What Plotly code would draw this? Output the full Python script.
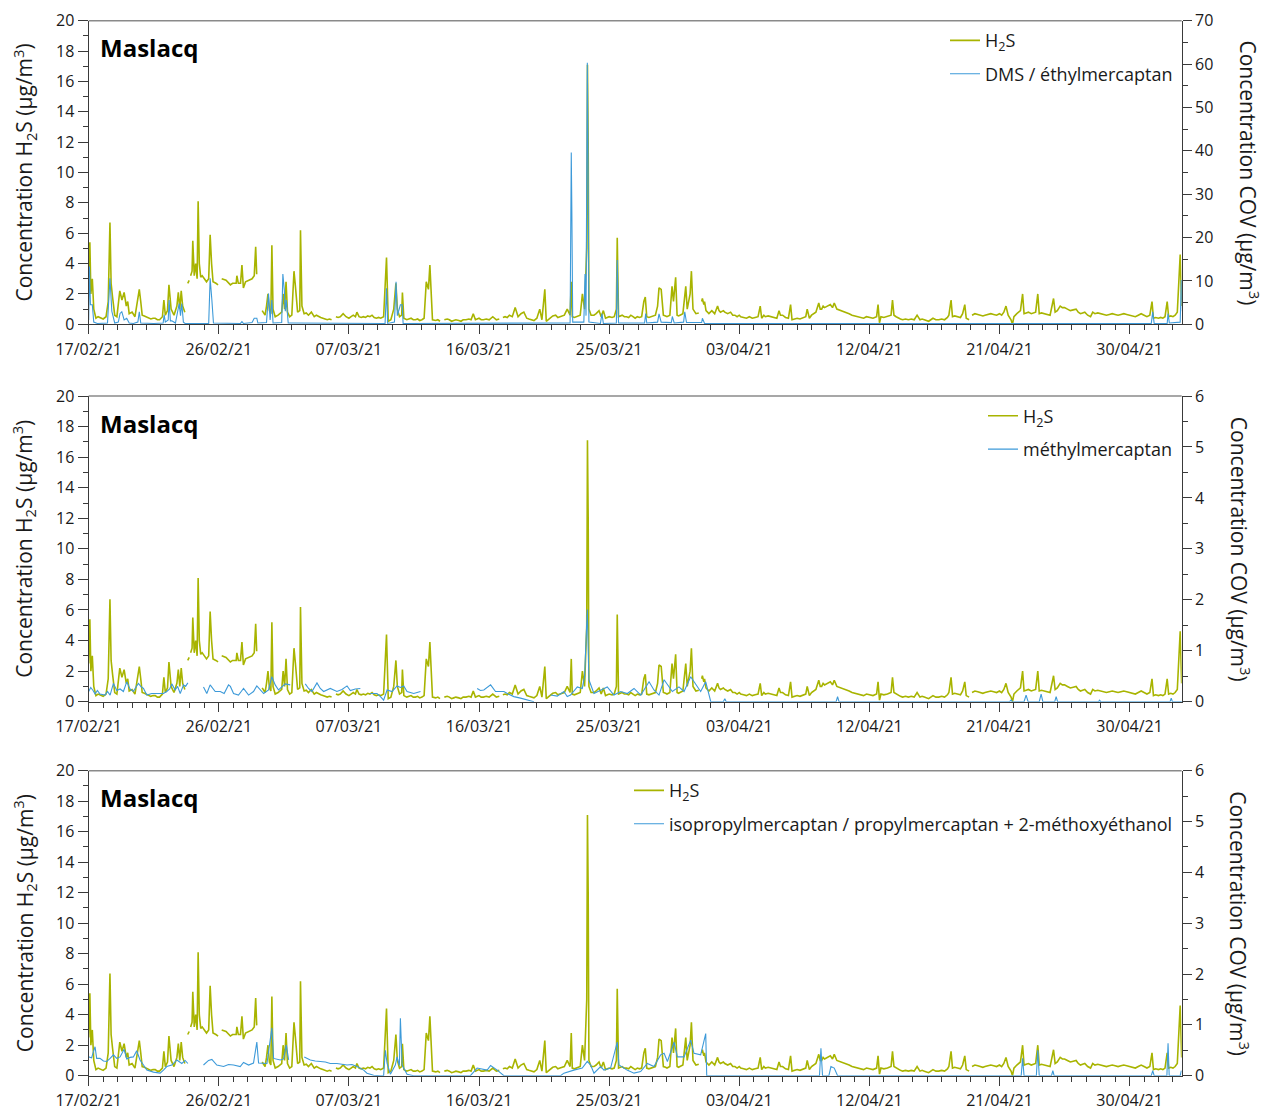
import pandas as pd
import plotly.graph_objects as go

# ---------------- data (day offset from 17/02/2021 00:00, value) ----------------
START = pd.Timestamp("2021-02-17 00:00")
END = pd.Timestamp("2021-05-03 14:30")

TICK_LABELS = ["17/02/21", "26/02/21", "07/03/21", "16/03/21", "25/03/21",
               "03/04/21", "12/04/21", "21/04/21", "30/04/21"]

# H2S (left axis, µg/m3) – identical in the three panels
H2S = [
    (0.0, 2.5), (0.08, 5.4), (0.15, 2.0), (0.25, 3.0), (0.35, 1.0), (0.5, 0.4), (0.65, 0.5), (0.8, 0.45),
    (1.0, 0.35), (1.2, 0.5), (1.35, 1.5), (1.47, 6.7), (1.55, 2.7), (1.65, 1.8), (1.8, 0.6), (1.95, 0.5),
    (2.05, 1.6), (2.15, 2.2), (2.3, 1.6), (2.45, 2.1), (2.6, 1.2), (2.7, 1.5), (2.8, 0.7), (3.0, 0.8),
    (3.2, 0.5), (3.35, 1.4), (3.5, 2.3), (3.6, 1.5), (3.7, 0.6), (3.85, 0.55), (4.0, 0.5), (4.15, 0.45),
    (4.3, 0.35), (4.45, 0.4), (4.6, 0.4), (4.75, 0.3), (4.9, 0.3), (5.1, 0.5), (5.2, 1.6), (5.3, 0.6),
    (5.45, 0.9), (5.55, 2.6), (5.7, 1.0), (5.9, 0.6), (6.1, 1.2), (6.2, 2.1), (6.3, 1.0), (6.4, 2.2),
    (6.5, 1.2), (6.65, 0.8), (6.75, None),
    (6.85, 2.7), (6.95, 2.9), (7.0, None),
    (7.05, 3.2), (7.15, 3.5), (7.2, 5.5), (7.3, 3.2), (7.4, 4.0), (7.5, 3.0), (7.57, 8.1), (7.65, 4.0),
    (7.75, 3.1), (7.85, 3.2), (8.0, 3.0), (8.15, 2.8), (8.3, 3.0), (8.4, 5.9), (8.5, 4.0), (8.6, 2.8),
    (8.8, 2.7), (8.95, 2.6), (9.05, None),
    (9.2, 3.0), (9.5, 2.9), (9.8, 2.6), (9.95, 2.7), (10.2, 2.7), (10.25, 3.2), (10.35, 2.7), (10.5, 2.7),
    (10.6, 3.9), (10.7, 2.4), (10.85, 2.8), (11.1, 2.9), (11.3, 3.0), (11.45, 3.2), (11.55, 5.1),
    (11.62, 3.3), (11.8, None),
    (12.0, 0.9), (12.2, 0.6), (12.3, 1.2), (12.4, 2.0), (12.5, 0.9), (12.6, 0.7), (12.67, 5.2), (12.75, 1.0),
    (12.9, 0.5), (13.1, 0.6), (13.35, 0.8), (13.45, 2.0), (13.55, 1.0), (13.65, 2.8), (13.75, 0.8),
    (13.9, 0.5), (14.05, 0.6), (14.2, 3.5), (14.3, 2.5), (14.45, 0.8), (14.6, 0.9), (14.65, 6.2),
    (14.75, 1.2), (14.9, 0.7), (15.05, 0.75), (15.2, 0.6), (15.4, 0.8), (15.5, 0.6), (15.6, 0.5),
    (15.75, 0.6), (15.9, 0.5), (16.05, 0.45), (16.2, 0.4), (16.35, 0.35), (16.5, 0.3), (16.65, 0.35),
    (16.8, 0.3), (16.95, None),
    (17.1, 0.5), (17.25, 0.45), (17.4, 0.5), (17.6, 0.7), (17.8, 0.5), (18.0, 0.4), (18.15, 0.5),
    (18.3, 0.6), (18.45, 0.5), (18.55, 0.8), (18.7, 0.5), (18.85, 0.45), (19.0, 0.5), (19.15, 0.45),
    (19.3, 0.55), (19.45, 0.5), (19.6, 0.6), (19.75, 0.45), (19.9, 0.4), (20.05, 0.45), (20.2, 0.4),
    (20.4, 0.5), (20.6, 4.4), (20.72, 0.2), (20.9, 0.3), (21.1, 1.0), (21.25, 2.7), (21.35, 1.0),
    (21.5, 0.5), (21.65, 0.6), (21.7, 2.1), (21.8, 0.4), (22.0, 0.3), (22.15, 0.35), (22.3, 0.4),
    (22.45, 0.3), (22.6, 0.3), (22.75, 0.35), (22.9, 0.25), (23.05, 0.3), (23.2, 0.4),
    (23.35, 2.8), (23.5, 2.3), (23.6, 3.9), (23.68, 2.0), (23.78, 0.3), (24.0, 0.25), (24.15, 0.3),
    (24.3, 0.2), (24.5, None), (24.6, 0.3), (24.8, 0.35), (24.95, 0.3), (25.1, 0.2), (25.25, 0.25),
    (25.4, 0.3), (25.6, 0.25), (25.75, 0.2), (25.9, 0.3), (26.1, 0.3), (26.3, 0.35), (26.45, 0.3),
    (26.6, 0.7), (26.75, 0.3), (27.0, 0.4), (27.15, 0.3), (27.3, 0.3), (27.5, 0.35), (27.7, 0.3),
    (27.95, 0.5), (28.2, 0.3), (28.4, 0.35), (28.55, None), (28.65, 0.45), (28.8, 0.5), (28.95, 0.45),
    (29.1, 0.6), (29.3, 0.5), (29.5, 1.1), (29.7, 0.5), (29.9, 0.7), (30.1, 0.8), (30.3, 0.4),
    (30.45, 0.35), (30.6, 0.3), (30.8, 0.25), (31.0, 0.4), (31.2, 1.0), (31.35, 0.3), (31.55, 2.3),
    (31.65, 0.2), (31.9, 0.4), (32.1, 0.55), (32.3, 0.6), (32.45, 0.45), (32.6, 0.5), (32.75, 0.55),
    (32.9, 0.6), (33.1, 1.0), (33.3, 0.6), (33.38, 2.8), (33.45, 0.5), (33.6, 0.45), (33.7, 0.5),
    (33.85, 0.55), (34.0, 0.6), (34.15, 2.0), (34.3, 1.0), (34.45, 5.0), (34.5, 17.1), (34.55, 12.0),
    (34.6, 1.0), (34.75, 0.6), (34.95, 0.6), (35.1, 0.7), (35.3, 0.9), (35.45, 0.5), (35.6, 0.9),
    (35.75, 0.4), (35.9, 0.45), (36.0, 0.5), (36.2, 0.45), (36.35, 0.5), (36.5, 1.0), (36.56, 5.7),
    (36.65, 0.5), (36.8, 0.55), (36.9, 0.6), (37.05, 0.5), (37.2, 0.5), (37.35, 0.45), (37.5, 0.6),
    (37.65, 0.5), (37.8, 0.4), (37.95, 0.5), (38.1, 0.45), (38.25, 0.5), (38.4, 1.5), (38.5, 1.8),
    (38.6, 0.5), (38.75, 0.45), (38.9, 0.5), (39.05, 0.55), (39.2, 0.6), (39.35, 1.2), (39.45, 2.4),
    (39.6, 2.3), (39.75, 0.6), (39.9, 0.55), (40.0, 0.5), (40.2, 0.6), (40.35, 2.5), (40.45, 1.5),
    (40.6, 3.1), (40.7, 0.6), (40.8, 0.55), (40.9, 0.6), (41.1, 0.7), (41.3, 2.5), (41.4, 1.0),
    (41.6, 2.0), (41.69, 3.5), (41.8, 1.0), (41.9, 0.8), (42.0, 0.7), (42.2, 0.75), (42.35, None),
    (42.4, 1.5), (42.45, 1.7), (42.55, 1.3), (42.6, 1.5), (42.7, 0.9), (42.9, 0.7), (43.1, 0.9),
    (43.3, 0.7), (43.5, 1.2), (43.6, 0.9), (43.7, 0.8), (43.9, 0.9), (44.0, 0.8), (44.2, 0.7),
    (44.4, 0.8), (44.55, 0.6), (44.7, 0.6), (44.85, 0.5), (45.0, 0.6), (45.1, 0.5), (45.3, 0.45),
    (45.5, 0.4), (45.7, 0.5), (45.9, 0.4), (46.1, 0.45), (46.3, 0.5), (46.45, 1.2), (46.55, 0.4),
    (46.7, 0.6), (46.8, 0.5), (47.0, 0.55), (47.2, 0.5), (47.4, 0.45), (47.6, 0.4), (47.75, 0.9),
    (47.85, 0.6), (48.0, 0.6), (48.2, 0.45), (48.4, 0.4), (48.55, 1.3), (48.65, 0.3), (48.8, 0.35),
    (49.0, 0.4), (49.2, 0.35), (49.4, 0.45), (49.6, 0.5), (49.7, 1.0), (49.85, 0.4), (50.0, 0.6),
    (50.15, 0.7), (50.3, 0.8), (50.5, 1.4), (50.6, 1.0), (50.7, 1.0), (50.8, 1.2), (50.9, 1.1),
    (51.1, 1.2), (51.3, 1.3), (51.45, 1.1), (51.57, 1.4), (51.75, 1.0), (51.9, 0.95), (52.0, 0.9),
    (52.2, 0.85), (52.4, 0.8), (52.6, 0.7), (52.8, 0.6), (53.0, 0.55), (53.2, 0.5), (53.4, 0.45),
    (53.6, 0.4), (53.8, 0.5), (54.0, 0.45), (54.25, 0.4), (54.5, 0.5), (54.6, 1.3), (54.7, 0.1),
    (54.8, 0.5), (55.0, 0.45), (55.25, 0.5), (55.5, 0.6), (55.6, 1.6), (55.7, 0.6), (55.85, 0.5),
    (56.0, 0.4), (56.15, 0.35), (56.3, 0.3), (56.5, 0.35), (56.7, 0.3), (56.9, 0.35), (57.1, 0.3),
    (57.3, 0.6), (57.5, 0.3), (57.65, 0.35), (57.8, 0.3), (57.95, 0.25), (58.1, 0.2), (58.25, 0.3),
    (58.4, 0.4), (58.6, 0.3), (58.8, 0.3), (59.0, 0.35), (59.2, 0.3), (59.4, 0.45), (59.5, 0.6),
    (59.65, 1.6), (59.75, 0.5), (59.9, 0.55), (60.1, 0.5), (60.3, 0.45), (60.45, 0.7), (60.6, 1.3),
    (60.7, 0.4), (60.8, 0.35), (60.9, 0.3), (61.0, None), (61.1, 0.6), (61.3, 0.7), (61.5, 0.65),
    (61.7, 0.6), (61.85, 0.55), (62.0, 0.6), (62.2, 0.65), (62.4, 0.7), (62.6, 0.65), (62.8, 0.6),
    (63.0, 0.7), (63.15, 0.6), (63.3, 0.8), (63.45, 1.2), (63.6, 0.6), (63.8, 0.3), (63.9, 0.0),
    (64.0, 0.5), (64.2, 0.7), (64.35, 0.8), (64.45, 0.9), (64.6, 2.0), (64.7, 0.7), (64.85, 0.75),
    (65.0, 0.8), (65.2, 0.7), (65.35, 0.75), (65.5, 0.8), (65.65, 2.0), (65.75, 0.7), (65.9, 0.75),
    (66.1, 0.7), (66.3, 0.65), (66.5, 0.6), (66.74, 1.7), (66.85, 0.8), (67.0, 0.9), (67.2, 1.2),
    (67.35, 1.1), (67.5, 1.1), (67.7, 1.0), (67.9, 0.9), (68.1, 0.95), (68.3, 1.0), (68.45, 0.8),
    (68.6, 0.7), (68.75, 0.75), (68.9, 0.8), (69.1, 0.6), (69.3, 0.5), (69.45, 0.8), (69.6, 0.7),
    (69.8, 0.75), (70.0, 0.7), (70.2, 0.65), (70.4, 0.6), (70.6, 0.65), (70.8, 0.7), (71.0, 0.65),
    (71.2, 0.6), (71.4, 0.65), (71.6, 0.7), (71.8, 0.65), (72.0, 0.6), (72.2, 0.55), (72.4, 0.5),
    (72.6, 0.6), (72.8, 0.7), (73.0, 0.6), (73.2, 0.5), (73.4, 0.6), (73.55, 1.5), (73.65, 0.4),
    (73.8, 0.45), (74.0, 0.4), (74.15, 0.45), (74.3, 0.4), (74.45, 0.5), (74.6, 1.5), (74.7, 0.5),
    (74.85, 0.55), (75.0, 0.5), (75.15, 0.6), (75.3, 0.8), (75.5, 4.6), (75.6, 1.2),
]

# DMS / éthylmercaptan (right axis, panel 1)
DMS = [
    (0.0, 1.0), (0.05, 13.3), (0.12, 4.5), (0.25, 4.5), (0.35, 0.5), (0.6, 0.2), (1.3, 0.3), (1.47, 10.6),
    (1.6, 3.0), (1.8, 0.3), (2.05, 0.5), (2.17, 2.5), (2.29, 2.9), (2.45, 1.0), (2.63, 1.4), (2.8, 0.3),
    (3.09, 0.2), (3.4, 0.5), (3.5, 2.9), (3.6, 0.3), (4.5, 0.2), (5.15, 0.3), (5.22, 2.2), (5.3, 0.5),
    (5.5, 1.0), (5.56, 5.6), (5.65, 0.8), (5.75, 0.8), (6.0, 0.3), (6.26, 4.8), (6.35, 2.0), (6.44, 4.8),
    (6.55, 0.5), (6.67, 0.2), (8.3, 0.2), (8.4, 10.6), (8.52, 5.6), (8.63, 0.3), (10.5, 0.2), (10.6, 0.6),
    (10.7, 0.2), (11.3, 0.4), (11.45, 1.4), (11.63, 1.4), (11.7, 0.3), (12.3, 0.4), (12.44, 7.1),
    (12.55, 1.0), (12.67, 5.6), (12.75, 0.3), (13.35, 0.4), (13.43, 11.6), (13.53, 7.9), (13.6, 3.0),
    (13.67, 5.6), (13.8, 0.3), (14.2, 0.3), (20.5, 0.2), (20.6, 8.3), (20.68, 0.2), (21.15, 0.5),
    (21.26, 9.8), (21.35, 2.0), (21.56, 4.5), (21.68, 4.5), (21.75, 0.2), (33.3, 0.3), (33.38, 39.6),
    (33.42, 26.1), (33.48, 0.5), (34.25, 0.5), (34.33, 11.6), (34.4, 2.0), (34.49, 60.3), (34.53, 44.0),
    (34.6, 0.5), (35.4, 0.2), (35.5, 2.5), (35.6, 0.2), (36.5, 0.3), (36.56, 14.8), (36.65, 0.3),
    (38.45, 0.3), (38.53, 2.5), (38.6, 0.3), (39.35, 0.5), (39.45, 2.4), (39.6, 0.5), (40.3, 0.4),
    (40.37, 1.8), (40.5, 0.3), (41.15, 0.5), (41.23, 2.9), (41.35, 0.4), (42.4, 0.4), (42.45, 1.4),
    (42.6, 0.2), (73.5, 0.2), (73.6, 2.9), (73.7, 0.2), (74.6, 0.2), (74.66, 2.5), (74.75, 0.3),
    (75.5, 0.5), (75.58, 10.2), (75.65, 3.0),
]

# méthylmercaptan (right axis, panel 2)
MM = [
    (0.0, 0.2), (0.14, 0.28), (0.3, 0.22), (0.44, 0.15), (0.6, 0.22), (0.78, 0.15), (1.13, 0.13), (1.3, 0.2),
    (1.48, 0.13), (1.71, 0.36), (1.94, 0.22), (2.17, 0.25), (2.4, 0.2), (2.63, 0.39), (2.86, 0.25),
    (3.09, 0.2), (3.25, 0.28), (3.44, 0.36), (3.6, 0.3), (3.79, 0.26), (4.02, 0.13), (4.36, 0.16),
    (4.71, 0.16), (5.17, 0.16), (5.4, 0.2), (5.6, 0.25), (5.75, 0.35), (5.98, 0.23), (6.15, 0.3),
    (6.33, 0.16), (6.56, 0.33), (6.7, 0.3), (6.86, 0.37), (7.2, None),
    (7.94, 0.29), (8.17, 0.16), (8.4, 0.33), (8.55, 0.28), (8.75, 0.2), (9.1, 0.2), (9.37, 0.16),
    (9.67, 0.33), (9.8, 0.3), (10.02, 0.16), (10.36, 0.13), (10.55, 0.2), (10.71, 0.26), (11.06, 0.13),
    (11.4, 0.2), (11.63, 0.31), (11.8, 0.25), (12.1, 0.16), (12.44, 0.23), (12.67, 0.49), (12.9, 0.33),
    (13.13, 0.23), (13.4, 0.3), (13.6, 0.35), (13.94, 0.33), (14.3, None),
    (14.98, 0.35), (15.21, 0.26), (15.44, 0.2), (15.79, 0.37), (16.02, 0.26), (16.25, 0.2), (16.71, 0.26),
    (17.17, 0.2), (17.52, 0.24), (17.87, 0.31), (18.1, 0.22), (18.44, 0.25), (18.79, 0.26), (19.1, None),
    (19.48, 0.16), (19.94, 0.16), (20.18, 0.1), (20.4, 0.03), (20.64, 0.23), (20.98, 0.2), (21.33, 0.31),
    (21.56, 0.28), (21.79, 0.31), (22.02, 0.2), (22.48, 0.16), (22.95, 0.2), (23.2, None),
    (26.87, 0.26), (27.1, 0.22), (27.33, 0.23), (27.8, 0.33), (28.14, 0.2), (28.72, 0.2), (28.95, 0.16),
    (29.41, 0.1), (29.87, 0.07), (30.33, 0.03), (30.8, 0.0), (31.2, None),
    (31.95, 0.13), (32.41, 0.11), (32.87, 0.2), (33.1, 0.1), (33.33, 0.13), (33.56, 0.2), (33.8, 0.29),
    (34.14, 0.26), (34.3, 0.49), (34.49, 1.81), (34.6, 0.43), (34.95, 0.16), (35.41, 0.23), (35.87, 0.29),
    (36.33, 0.13), (36.8, 0.2), (37.26, 0.16), (37.72, 0.26), (38.19, 0.13), (38.76, 0.39), (39.1, 0.23),
    (39.45, 0.13), (39.8, 0.43), (40.03, 0.33), (40.37, 0.2), (40.83, 0.29), (41.18, 0.2), (41.64, 0.49),
    (41.87, 0.39), (42.33, 0.2), (42.68, 0.39), (43.03, 0.0), (43.9, 0.0), (44.0, 0.06), (44.1, 0.0),
    (51.7, 0.0), (51.8, 0.1), (51.9, 0.0), (63.7, 0.0), (63.8, 0.03), (63.9, 0.0), (64.7, 0.0),
    (64.84, 0.13), (64.98, 0.0), (65.75, 0.0), (65.88, 0.15), (66.0, 0.0), (66.82, 0.0), (66.92, 0.1),
    (67.02, 0.0), (69.85, 0.0), (69.92, 0.03), (70.0, 0.0), (74.8, 0.0), (74.88, 0.07), (74.96, 0.0),
    (75.65, 0.0),
]

# isopropylmercaptan / propylmercaptan + 2-méthoxyéthanol (right axis, panel 3)
IPM = [
    (0.0, 0.37), (0.2, 0.35), (0.3, 0.45), (0.44, 0.57), (0.55, 0.34), (0.78, 0.34), (1.02, 0.29),
    (1.25, 0.28), (1.48, 0.34), (1.71, 0.41), (1.94, 0.34), (2.17, 0.37), (2.45, 0.52), (2.63, 0.33),
    (2.86, 0.36), (3.09, 0.37), (3.32, 0.49), (3.55, 0.31), (3.79, 0.21), (4.02, 0.11), (4.48, 0.07),
    (4.94, 0.05), (5.17, 0.11), (5.4, 0.18), (5.75, 0.21), (6.1, 0.31), (6.44, 0.24), (6.67, 0.3),
    (6.86, 0.24), (7.2, None),
    (7.94, 0.21), (8.29, 0.3), (8.52, 0.32), (8.86, 0.21), (9.33, 0.18), (9.67, 0.22), (10.02, 0.21),
    (10.48, 0.18), (10.71, 0.26), (11.06, 0.21), (11.4, 0.25), (11.63, 0.66), (11.75, 0.25), (12.1, 0.24),
    (12.33, 0.24), (12.67, 0.94), (12.79, 0.34), (13.25, 0.31), (13.48, 0.33), (13.67, 0.6), (13.83, 0.31),
    (14.3, None),
    (14.91, 0.37), (15.33, 0.31), (15.67, 0.29), (16.02, 0.28), (16.37, 0.27), (16.71, 0.24), (17.17, 0.24),
    (17.87, 0.21), (18.21, 0.22), (18.56, 0.18), (19.02, 0.11), (19.25, 0.05), (19.71, 0.01), (20.18, 0.0),
    (20.4, 0.0), (20.52, 0.5), (20.64, 0.24), (20.87, 0.03), (21.21, 0.21), (21.33, 0.37), (21.49, 0.2),
    (21.56, 1.13), (21.68, 0.21), (22.02, 0.03), (22.48, 0.0), (26.4, 0.0), (26.87, 0.15), (27.56, 0.11),
    (27.8, 0.2), (28.26, 0.11), (28.72, 0.0), (32.64, 0.0), (32.87, 0.05), (33.56, 0.11), (34.14, 0.15),
    (34.49, 0.28), (34.72, 0.21), (34.95, 0.05), (35.41, 0.18), (35.64, 0.11), (36.1, 0.15), (36.56, 0.66),
    (36.68, 0.21), (37.24, 0.11), (37.72, 0.05), (38.18, 0.08), (38.64, 0.24), (39.1, 0.18), (39.56, 0.41),
    (39.8, 0.44), (40.03, 0.28), (40.49, 0.66), (40.72, 0.37), (41.18, 0.37), (41.64, 0.7), (41.87, 0.44),
    (42.33, 0.41), (42.68, 0.83), (42.75, 0.0), (50.55, 0.0), (50.65, 0.54), (50.76, 0.0), (51.2, 0.0),
    (51.34, 0.18), (51.57, 0.15), (51.8, 0.0), (64.5, 0.0), (64.6, 0.34), (64.7, 0.0), (65.55, 0.0),
    (65.65, 0.5), (65.75, 0.0), (66.6, 0.0), (66.69, 0.1), (66.78, 0.0), (73.5, 0.0), (73.6, 0.1),
    (73.7, 0.0), (74.58, 0.0), (74.66, 0.64), (74.74, 0.0), (75.5, 0.0), (75.58, 0.1),
]

SERIES_NAMES = ["DMS / éthylmercaptan", "méthylmercaptan",
                "isopropylmercaptan / propylmercaptan + 2-méthoxyéthanol"]
RIGHT_RANGES = [(0, 70, 10, 5), (0, 6, 1, 0.5), (0, 6, 1, 0.5)]
STATION = "Maslacq"

# ---------------- styling ----------------
OFF = 8                      # page body margin of the html page
W, H = 1274 - OFF, 1113 - OFF
GREEN = "#a8b400"
BLUE = "#3d9ad9"
FONT = "Segoe UI, Open Sans, sans-serif"
AX = "#3a3a3a"
TXT = "#1a1a1a"


def fx(px):
    return (px - OFF) / W


def fy(py):
    return 1 - (py - OFF) / H


def unzip(points):
    xs = [START + pd.Timedelta(days=d) for d, _ in points]
    ys = [v for _, v in points]
    return xs, ys


# panel pixel geometry in the page: (top, bottom)
panels_px = [(20.7, 324.3), (396.0, 701.7), (770.7, 1075.7)]
x_dom = [fx(88.7), fx(1181.7)]

fig = go.Figure()
layout = dict(
    template="none",
    width=W, height=H, margin=dict(l=0, r=0, t=0, b=0, autoexpand=False),
    paper_bgcolor="white", plot_bgcolor="white",
    font=dict(family=FONT, color=TXT, size=16),
    showlegend=True,
)
annotations = []
shapes = []
blue_series = [DMS, MM, IPM]
h2s_x, h2s_y = unzip(H2S)
tickvals = [pd.Timestamp(f"20{t[6:8]}-{t[3:5]}-{t[0:2]}") for t in TICK_LABELS]
minor_vals = list(pd.date_range(START, END, freq="D"))

for i, (top, bot) in enumerate(panels_px):
    n = i + 1
    xa = "x" if n == 1 else f"x{n}"
    yl = 2 * n - 1
    yr = 2 * n
    yl_name = "y" if yl == 1 else f"y{yl}"
    yr_name = f"y{yr}"
    leg = "legend" if n == 1 else f"legend{n}"
    y_dom = [fy(bot), fy(top)]

    fig.add_trace(go.Scatter(
        x=h2s_x, y=h2s_y, mode="lines", name="H<sub>2</sub>S",
        line=dict(color=GREEN, width=1.6), xaxis=xa, yaxis=yl_name,
        legend=leg, legendgroup=f"h2s{n}", connectgaps=False,
    ))
    bx, by = unzip(blue_series[i])
    fig.add_trace(go.Scatter(
        x=bx, y=by, mode="lines", name=SERIES_NAMES[i],
        line=dict(color=BLUE, width=1.1), xaxis=xa, yaxis=yr_name,
        legend=leg, legendgroup=f"cov{n}", connectgaps=False,
    ))

    xkey = "xaxis" if n == 1 else f"xaxis{n}"
    layout[xkey] = dict(
        domain=x_dom, anchor=yl_name, type="date",
        range=[START, END],
        tickmode="array", tickvals=tickvals, ticktext=TICK_LABELS,
        ticks="outside", ticklen=9, tickwidth=1, tickcolor=AX,
        minor=dict(ticks="outside", ticklen=5, tickcolor=AX,
                   tickmode="array", tickvals=minor_vals),
        showline=True, linecolor=AX, linewidth=1.2,
        showgrid=False, zeroline=False, automargin=False,
        tickfont=dict(size=16, family=FONT, color=TXT),
        ticklabelstandoff=1,
    )
    ylkey = "yaxis" if yl == 1 else f"yaxis{yl}"
    layout[ylkey] = dict(
        domain=y_dom, anchor=xa, range=[0, 20], dtick=2, tick0=0,
        ticks="outside", ticklen=10, tickwidth=1, tickcolor=AX,
        minor=dict(ticks="outside", ticklen=5, dtick=1, tickcolor=AX),
        showline=True, linecolor=AX, linewidth=1.2,
        showgrid=False, zeroline=False, automargin=False,
        tickfont=dict(size=16, family=FONT, color=TXT),
    )
    r0, r1, rd, rm = RIGHT_RANGES[i]
    layout[f"yaxis{yr}"] = dict(
        domain=y_dom, anchor=xa, overlaying=yl_name, side="right",
        range=[r0, r1], dtick=rd, tick0=0,
        ticks="outside", ticklen=9, tickwidth=1, tickcolor=AX,
        minor=dict(ticks="outside", ticklen=5, dtick=rm, tickcolor=AX),
        showline=True, linecolor=AX, linewidth=1.2,
        showgrid=False, zeroline=False, automargin=False,
        tickfont=dict(size=16, family=FONT, color=TXT),
    )

    # top frame line
    shapes.append(dict(type="line", xref="paper", yref="paper",
                       x0=x_dom[0], x1=x_dom[1], y0=y_dom[1], y1=y_dom[1],
                       line=dict(color="#8a8a8a", width=1.5)))

    mid = (top + bot) / 2
    annotations.append(dict(
        text="Concentration H<sub>2</sub>S (µg/m<sup>3</sup>)", textangle=-90,
        xref="paper", yref="paper", x=fx(24), y=fy(mid),
        xanchor="center", yanchor="middle", showarrow=False,
        font=dict(size=21, family=FONT, color=TXT)))
    rx = 1249 if n == 1 else 1240
    annotations.append(dict(
        text="Concentration COV (µg/m<sup>3</sup>)", textangle=90,
        xref="paper", yref="paper", x=fx(rx), y=fy(mid),
        xanchor="center", yanchor="middle", showarrow=False,
        font=dict(size=21, family=FONT, color=TXT)))
    annotations.append(dict(
        text=f"<b>{STATION}</b>", xref="paper", yref="paper",
        x=fx(98), y=fy(top + 27), xanchor="left", yanchor="middle",
        showarrow=False, font=dict(size=24, family=FONT, color="black")))

    layout[leg] = dict(
        x=fx(1178), xanchor="right", y=fy(top + 1.5), yanchor="top",
        bgcolor="rgba(0,0,0,0)", borderwidth=0, itemwidth=30,
        tracegroupgap=7, traceorder="grouped",
        font=dict(size=18, family=FONT, color=TXT),
    )

layout["annotations"] = annotations
layout["shapes"] = shapes
fig.update_layout(**layout)
fig.write_html("out.html")
